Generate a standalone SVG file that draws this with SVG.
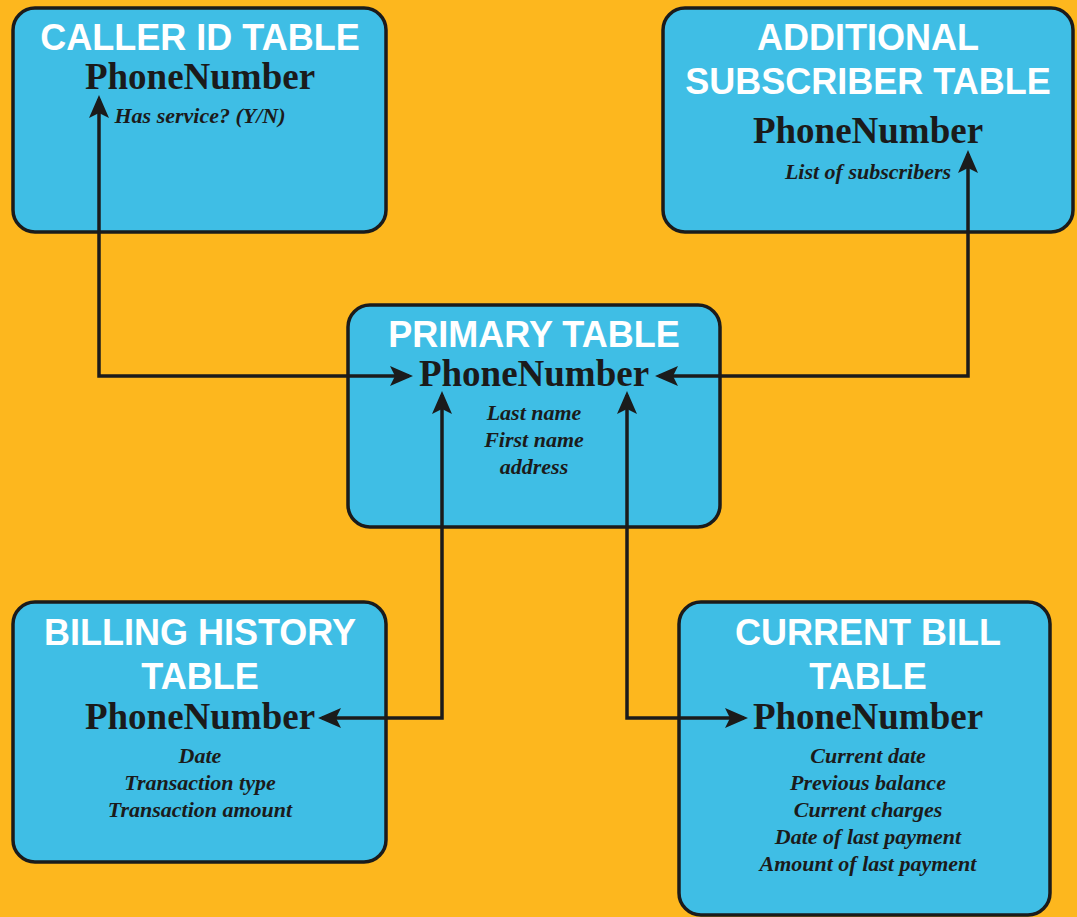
<svg xmlns="http://www.w3.org/2000/svg" width="1077" height="917" viewBox="0 0 1077 917">
  <style>
    .box { fill: #3fbee5; stroke: #1b1b1b; stroke-width: 3.5; }
    .title { font-family: "Liberation Sans", Arial, sans-serif; font-weight: bold; font-size: 36px; fill: #ffffff; text-anchor: middle; }
    .key { font-family: "Liberation Serif", "Times New Roman", serif; font-weight: bold; font-size: 37px; fill: #1b1b1b; text-anchor: middle; }
    .field { font-family: "Liberation Serif", "Times New Roman", serif; font-weight: bold; font-style: italic; font-size: 22px; fill: #1b1b1b; text-anchor: middle; }
    .link { fill: none; stroke: #1b1b1b; stroke-width: 3.5; marker-start: url(#head); marker-end: url(#head); }
  </style>
  <defs>
    <marker id="head" markerUnits="userSpaceOnUse" markerWidth="24" markerHeight="22" viewBox="0 0 24 22" refX="19" refY="11" orient="auto-start-reverse">
      <path d="M0,1 L23,11 L0,21 L5,11 z" fill="#1b1b1b"/>
    </marker>
  </defs>

  <rect width="1077" height="917" fill="#fdb71e"/>

  <g id="caller-id-table">
    <rect class="box" x="13" y="8" width="373" height="224" rx="22"/>
    <text class="title" x="200" y="50">CALLER ID TABLE</text>
    <text class="key" x="200" y="89">PhoneNumber</text>
    <text class="field" x="200" y="123">Has service? (Y/N)</text>
  </g>

  <g id="additional-subscriber-table">
    <rect class="box" x="663" y="8" width="410" height="224" rx="22"/>
    <text class="title" x="868" y="50">ADDITIONAL</text>
    <text class="title" x="868" y="94">SUBSCRIBER TABLE</text>
    <text class="key" x="868" y="143">PhoneNumber</text>
    <text class="field" x="868" y="179">List of subscribers</text>
  </g>

  <g id="primary-table">
    <rect class="box" x="348" y="305" width="372" height="222" rx="22"/>
    <text class="title" x="534" y="347">PRIMARY TABLE</text>
    <text class="key" x="534" y="386">PhoneNumber</text>
    <text class="field" x="534" y="420">Last name</text>
    <text class="field" x="534" y="447">First name</text>
    <text class="field" x="534" y="474">address</text>
  </g>

  <g id="billing-history-table">
    <rect class="box" x="13" y="602" width="373" height="260" rx="22"/>
    <text class="title" x="200" y="645">BILLING HISTORY</text>
    <text class="title" x="200" y="689">TABLE</text>
    <text class="key" x="200" y="729">PhoneNumber</text>
    <text class="field" x="200" y="763">Date</text>
    <text class="field" x="200" y="790">Transaction type</text>
    <text class="field" x="200" y="817">Transaction amount</text>
  </g>

  <g id="current-bill-table">
    <rect class="box" x="679" y="602" width="371" height="313" rx="22"/>
    <text class="title" x="868" y="645">CURRENT BILL</text>
    <text class="title" x="868" y="689">TABLE</text>
    <text class="key" x="868" y="729">PhoneNumber</text>
    <text class="field" x="868" y="763">Current date</text>
    <text class="field" x="868" y="790">Previous balance</text>
    <text class="field" x="868" y="817">Current charges</text>
    <text class="field" x="868" y="844">Date of last payment</text>
    <text class="field" x="868" y="871">Amount of last payment</text>
  </g>

  <!-- links run over the boxes so the arrowheads land on each PhoneNumber key -->
  <g id="connectors">
    <path class="link" d="M99,99 V376 H409"/>
    <path class="link" d="M968,154 V376 H659"/>
    <path class="link" d="M322,718 H442 V395"/>
    <path class="link" d="M627,395 V718 H744"/>
  </g>
</svg>
